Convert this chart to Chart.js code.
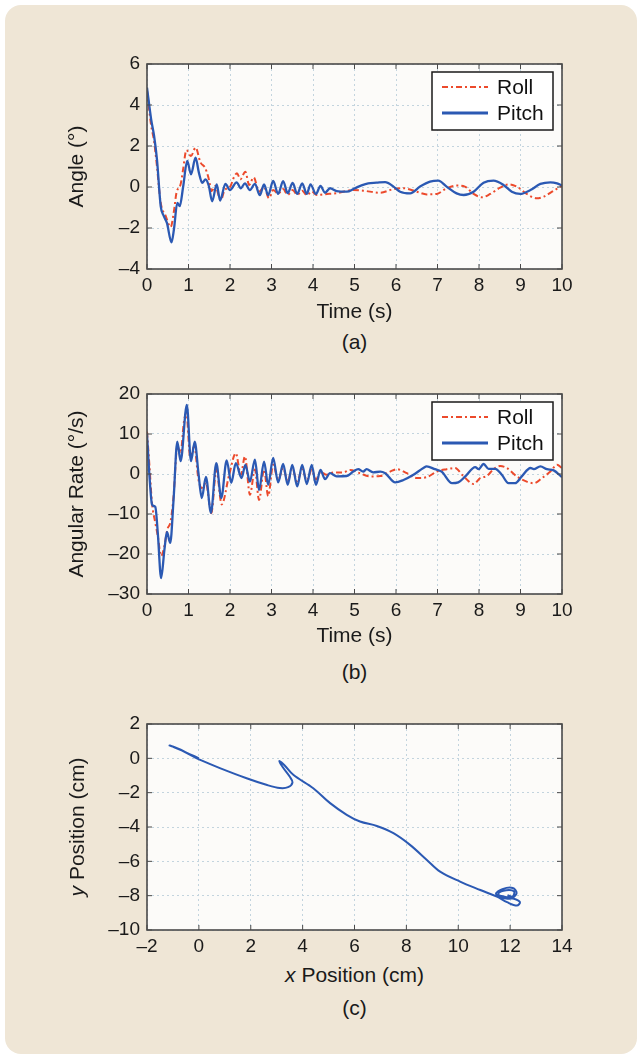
<!DOCTYPE html>
<html>
<head>
<meta charset="utf-8">
<script src="https://cdn.jsdelivr.net/npm/chart.js@4.4.1/dist/chart.umd.min.js"></script>
<style>
  html, body { margin: 0; padding: 0; background: #fff; }
  body { width: 642px; height: 1059px; position: relative; overflow: hidden;
         font-family: "Liberation Sans", Arial, sans-serif; color: #1a1a1a; }
  .panel { position: absolute; left: 5px; top: 5px; width: 632px; height: 1049px;
           background: #efe6d6; border-radius: 16px; }
  canvas { position: absolute; left: 0; }
  .label { position: absolute; left: 147px; width: 415px; text-align: center;
           font-size: 21px; line-height: 24px; }
  .ytitle { position: absolute; width: 300px; text-align: center; font-size: 21px;
            line-height: 24px; transform: rotate(-90deg); }
</style>
</head>
<body>
<div class="panel"></div>

<canvas id="angleChart" width="642" height="290" style="top:40px"></canvas>
<div class="label" style="top:330px">(a)</div>

<canvas id="rateChart" width="642" height="284" style="top:370px"></canvas>
<div class="label" style="top:660px">(b)</div>

<canvas id="posChart" width="642" height="260" style="top:700px"></canvas>
<div class="ytitle" style="left:-73px; top:815px"><i>y</i> Position (cm)</div>
<div class="label" style="top:963px"><i>x</i> Position (cm)</div>
<div class="label" style="top:996px">(c)</div>

<script>
// tick labels
const timeTicks = [0, 1, 2, 3, 4, 5, 6, 7, 8, 9, 10];
const angleTicks = [-4, -2, 0, 2, 4, 6];
const rateTicks = [-30, -20, -10, 0, 10, 20];
const posXTicks = [-2, 0, 2, 4, 6, 8, 10, 12, 14];
const posYTicks = [-10, -8, -6, -4, -2, 0, 2];

// (a) angle, degrees
const rollAngleT = [0, 0.1, 0.17, 0.24, 0.33, 0.45, 0.57, 0.65, 0.71, 0.81, 0.87, 0.95, 1.06, 1.17, 1.29, 1.4,
  1.48, 1.56, 1.64, 1.78, 1.87, 2.0, 2.1, 2.17, 2.25, 2.37, 2.46, 2.57, 2.7, 2.82, 2.94, 3.04, 3.16, 3.28,
  3.39, 3.51, 3.62, 3.74, 3.85, 3.97, 4.09, 4.3, 4.57, 4.97, 5.21, 5.62, 5.94, 6.18, 6.5, 6.74, 6.98, 7.22,
  7.46, 7.66, 7.87, 8.07, 8.27, 8.51, 8.71, 8.91, 9.15, 9.39, 9.56, 9.76, 10];
const rollAngle = [4.7, 3.0, 2.25, 1.0, -0.76, -1.41, -1.95, -1.17, -0.28, 0.13, 0.86, 1.8, 1.51, 1.92, 1.19, 0.94,
  0.46, -0.2, 0.05, -0.65, -0.15, 0, 0.5, 0.67, 0.38, 0.75, 0.1, 0.47, -0.23, 0, -0.55, -0.15, -0.32, -0.1,
  -0.38, -0.15, -0.38, -0.18, -0.4, -0.22, -0.39, -0.35, -0.3, -0.15, -0.18, -0.28, -0.1, -0.06, -0.23, -0.36, -0.34, -0.06,
  0.07, 0.02, -0.34, -0.5, -0.34, -0.03, 0.13, 0.02, -0.34, -0.55, -0.47, -0.23, 0.07];
const pitchAngleT = [0, 0.1, 0.17, 0.24, 0.33, 0.4, 0.48, 0.59, 0.65, 0.73, 0.79, 0.87, 0.97, 1.06, 1.17, 1.25,
  1.33, 1.41, 1.49, 1.57, 1.68, 1.76, 1.89, 2.0, 2.16, 2.26, 2.36, 2.48, 2.6, 2.72, 2.82, 2.92, 3.04, 3.16,
  3.28, 3.39, 3.51, 3.62, 3.74, 3.85, 3.94, 4.07, 4.18, 4.29, 4.41, 4.57, 4.81, 5.01, 5.17, 5.33, 5.53, 5.74,
  5.94, 6.1, 6.34, 6.58, 6.82, 7.02, 7.22, 7.46, 7.63, 7.87, 8.11, 8.35, 8.59, 8.79, 8.99, 9.24, 9.48, 9.72, 9.88, 10];
const pitchAngle = [4.85, 3.3, 2.5, 1.35, -0.93, -1.4, -1.75, -2.7, -2.05, -0.77, -0.93, 0, 1.27, 0.62, 1.43, 0.7,
  0.2, 0.37, 0.05, -0.7, 0.13, -0.66, 0.15, -0.15, 0.23, -0.06, 0.18, -0.15, 0.15, -0.4, 0.13, -0.4, 0.3, -0.34,
  0.29, -0.3, 0.2, -0.34, 0.18, -0.34, 0.13, -0.34, 0.05, -0.28, -0.06, -0.2, -0.23, -0.06, 0.08, 0.18, 0.21, 0.24,
  0.02, -0.23, -0.31, 0.02, 0.26, 0.31, 0.02, -0.31, -0.39, -0.23, 0.21, 0.31, 0.1, -0.23, -0.34, -0.15, 0.15, 0.23, 0.18, 0.07];

// (b) angular rate, degrees per second
const rollRateT = [0, 0.06, 0.12, 0.2, 0.26, 0.34, 0.42, 0.49, 0.57, 0.64, 0.73, 0.81, 0.89, 0.95, 1.04, 1.14,
  1.24, 1.32, 1.42, 1.55, 1.67, 1.8, 1.98, 2.14, 2.26, 2.36, 2.48, 2.6, 2.7, 2.82, 2.92, 3.04, 3.16, 3.28,
  3.39, 3.5, 3.62, 3.74, 3.85, 3.97, 4.07, 4.18, 4.33, 4.49, 4.73, 4.89, 5.13, 5.37, 5.62, 5.86, 6.02, 6.26,
  6.5, 6.74, 6.98, 7.22, 7.42, 7.62, 7.87, 8.03, 8.19, 8.35, 8.51, 8.67, 8.91, 9.15, 9.32, 9.52, 9.72, 9.88, 10];
const rollRate = [10.6, 1.9, -7.2, -12.2, -15.5, -20.5, -18, -13.9, -11.8, -5.6, 6.9, 5.2, 13.1, 15.2, 4.4, 6.9,
  -1.4, -3.5, -2.2, -9.8, 1.1, -7.6, -0.2, 5.2, -0.2, 4.4, -5.2, 1.1, -6.5, 1.1, -5.5, 2.3, -1.5, 1.5,
  -1.8, 1.3, -1.8, 1.2, -1.6, 1.0, -1.4, 0.5, -0.2, 0.4, 0.4, 1, 0.2, -0.6, -0.5, 0.6, 1.2, 0.2,
  -1, -0.8, 0.6, 1.2, 1.5, -0.5, -2.5, -1, -0.5, 1.2, 2, 1.5, -0.6, -1.9, -2.3, -1, 0.6, 2.3, 1.5];
const pitchRateT = [0, 0.06, 0.12, 0.16, 0.2, 0.26, 0.34, 0.42, 0.48, 0.56, 0.64, 0.73, 0.81, 0.96, 1.06, 1.15,
  1.24, 1.32, 1.42, 1.54, 1.67, 1.79, 1.92, 2.03, 2.14, 2.28, 2.37, 2.48, 2.6, 2.7, 2.82, 2.92, 3.04, 3.16,
  3.28, 3.39, 3.5, 3.62, 3.74, 3.85, 3.97, 4.07, 4.18, 4.29, 4.41, 4.57, 4.81, 4.97, 5.09, 5.21, 5.29, 5.45,
  5.62, 5.74, 5.98, 6.18, 6.42, 6.66, 6.74, 6.94, 7.1, 7.35, 7.5, 7.67, 7.91, 7.99, 8.11, 8.23, 8.39, 8.55,
  8.71, 8.87, 9.03, 9.24, 9.32, 9.48, 9.64, 9.8, 10];
const pitchRate = [10, -0.6, -7.6, -8, -8.2, -14.7, -26, -18.9, -14.5, -17.2, -6.4, 8.1, 3.2, 17.3, 3.2, 8.1,
  0.2, -6, -0.7, -9.7, 2.7, -6, 3.4, -2.2, 2.7, -1, 2.3, -1.9, 3.6, -4, 3.1, -2.7, 4, -2.1,
  2.5, -2.7, 2.3, -3.1, 2.3, -2.5, 2.3, -2.7, 1, -1.3, 0.2, -0.6, -0.5, 0.6, 1.2, 0.6, 1.2, 0.4,
  0.6, 0.2, -2.1, -1.5, -0.2, 1.5, 1.9, 1.2, 0.6, -2.3, -2.1, -0.6, 1.7, 1.2, 2.5, 1.3, 1.3, -0.2,
  -2.3, -2.3, -0.6, 1.5, 1.2, 1.9, 1.2, 0.9, -0.8];

// (c) position, cm
const posX = [0, -0.5, -1.13, -0.7, -0.22, 0.03, 0.81, 1.84, 2.6, 3.12, 3.44, 3.61, 3.5, 3.25, 3.1, 3.3,
  3.64, 4.41, 5.06, 5.7, 6.21, 6.86, 7.5, 8.14, 8.79, 9.3, 10.07, 10.85, 11.49, 11.88, 12.26, 12.38,
  12.15, 11.75, 11.45, 11.7, 12.1, 12.25, 12.05, 11.65, 11.55, 11.85, 12.15, 12.1, 11.9];
const posY = [0, 0.35, 0.75, 0.5, 0.11, -0.08, -0.57, -1.16, -1.54, -1.73, -1.68, -1.4, -1.06, -0.55, -0.16, -0.4,
  -0.96, -1.74, -2.61, -3.29, -3.68, -3.94, -4.36, -5.04, -5.92, -6.6, -7.18, -7.67, -8.06, -8.38, -8.58, -8.38,
  -8.18, -8.05, -7.9, -7.62, -7.55, -7.85, -8.15, -8.1, -7.85, -7.68, -7.75, -8.05, -7.98];

const ROLL = '#ec4a2c';
const PITCH = '#2b59b3';
const tickFont = { family: '"Liberation Sans", Arial, sans-serif', size: 19 };
const titleFont = { family: '"Liberation Sans", Arial, sans-serif', size: 21 };
const dash = v => String(v).replace('-', '\u2013');
const pts = (xs, ys) => xs.map((x, i) => ({ x: x, y: ys[i] }));

// white plot area, dark frame and MATLAB-style inward ticks
const frame = {
  id: 'frame',
  beforeDraw(chart) {
    const a = chart.chartArea, ctx = chart.ctx;
    ctx.save();
    ctx.fillStyle = '#fcfbf9';
    ctx.fillRect(a.left, a.top, a.right - a.left, a.bottom - a.top);
    ctx.restore();
  },
  afterDatasetsDraw(chart) {
    const a = chart.chartArea, ctx = chart.ctx;
    ctx.save();
    ctx.strokeStyle = '#4a4a4a';
    ctx.lineWidth = 1;
    ctx.beginPath();
    Object.values(chart.scales).forEach(s => {
      s.ticks.forEach(t => {
        const p = s.getPixelForValue(t.value);
        if (s.isHorizontal()) {
          ctx.moveTo(p, a.bottom); ctx.lineTo(p, a.bottom - 5);
          ctx.moveTo(p, a.top); ctx.lineTo(p, a.top + 5);
        } else {
          ctx.moveTo(a.left, p); ctx.lineTo(a.left + 5, p);
          ctx.moveTo(a.right, p); ctx.lineTo(a.right - 5, p);
        }
      });
    });
    ctx.stroke();
    ctx.lineWidth = 1.6;
    ctx.strokeRect(a.left, a.top, a.right - a.left, a.bottom - a.top);
    ctx.restore();
  }
};

// boxed legend in the top right corner of the plot
const boxLegend = {
  id: 'boxLegend',
  afterDraw(chart) {
    const a = chart.chartArea, ctx = chart.ctx;
    const w = 121, h = 58;
    const x0 = a.right - 9 - w, y0 = a.top + 8;
    ctx.save();
    ctx.fillStyle = '#ffffff';
    ctx.fillRect(x0, y0, w, h);
    ctx.strokeStyle = '#1a1a1a';
    ctx.lineWidth = 1.5;
    ctx.strokeRect(x0, y0, w, h);
    chart.data.datasets.forEach((ds, i) => {
      const y = y0 + 15 + i * 26;
      ctx.strokeStyle = ds.borderColor;
      ctx.lineWidth = ds.label === 'Pitch' ? 3 : 2;
      ctx.setLineDash(ds.borderDash || []);
      ctx.beginPath();
      ctx.moveTo(x0 + 10, y);
      ctx.lineTo(x0 + 56, y);
      ctx.stroke();
      ctx.setLineDash([]);
      ctx.fillStyle = '#111';
      ctx.font = '21px "Liberation Sans", Arial, sans-serif';
      ctx.textBaseline = 'middle';
      ctx.fillText(ds.label, x0 + 65, y + 1);
    });
    ctx.restore();
  }
};

function axis(ticks, width, height, title, titlePad) {
  const cfg = {
    type: 'linear',
    min: ticks[0],
    max: ticks[ticks.length - 1],
    afterBuildTicks: s => { s.ticks = ticks.map(v => ({ value: v })); },
    ticks: { autoSkip: false, maxRotation: 0, color: '#1a1a1a', font: tickFont, callback: dash },
    grid: { color: '#c3d4de', lineWidth: 1, drawTicks: false },
    border: { display: false, dash: [2, 3] },
    title: { display: !!title, text: title, color: '#1a1a1a', font: titleFont, padding: titlePad }
  };
  if (width) {
    cfg.afterFit = s => { s.width = width; };
    cfg.ticks.padding = 7;
  } else {
    cfg.afterFit = s => { s.height = height; };
    cfg.ticks.padding = 5;
  }
  return cfg;
}

function baseOptions(xAxis, yAxis) {
  return {
    responsive: false,
    animation: false,
    layout: { padding: { top: 24, right: 80, left: 0, bottom: 0 } },
    plugins: { legend: { display: false }, tooltip: { enabled: false } },
    scales: { x: xAxis, y: yAxis }
  };
}

function rollSet(data) {
  return { label: 'Roll', data: data, borderColor: ROLL, borderWidth: 2, borderDash: [6, 3, 2, 3],
           pointRadius: 0, cubicInterpolationMode: 'monotone', order: 1 };
}
function pitchSet(data) {
  return { label: 'Pitch', data: data, borderColor: PITCH, borderWidth: 2.3, pointRadius: 0,
           cubicInterpolationMode: 'monotone', order: 0 };
}

new Chart(document.getElementById('angleChart'), {
  type: 'line',
  data: { datasets: [rollSet(pts(rollAngleT, rollAngle)), pitchSet(pts(pitchAngleT, pitchAngle))] },
  options: baseOptions(
    axis(timeTicks, 0, 61, 'Time (s)', { top: 0, bottom: 5 }),
    axis(angleTicks, 147, 0, 'Angle (°)', { top: 65, bottom: 0 })
  ),
  plugins: [frame, boxLegend]
});

new Chart(document.getElementById('rateChart'), {
  type: 'line',
  data: { datasets: [rollSet(pts(rollRateT, rollRate)), pitchSet(pts(pitchRateT, pitchRate))] },
  options: baseOptions(
    axis(timeTicks, 0, 60, 'Time (s)', { top: 0, bottom: 5 }),
    axis(rateTicks, 147, 0, 'Angular Rate (°/s)', { top: 65, bottom: 0 })
  ),
  plugins: [frame, boxLegend]
});

new Chart(document.getElementById('posChart'), {
  type: 'scatter',
  data: {
    datasets: [{
      label: 'Path', data: pts(posX, posY), showLine: true, borderColor: PITCH, borderWidth: 2,
      pointRadius: 0, tension: 0.35
    }]
  },
  options: baseOptions(
    axis(posXTicks, 0, 30, '', { top: 0, bottom: 0 }),
    axis(posYTicks, 147, 0, '', { top: 0, bottom: 0 })
  ),
  plugins: [frame]
});
</script>
</body>
</html>
